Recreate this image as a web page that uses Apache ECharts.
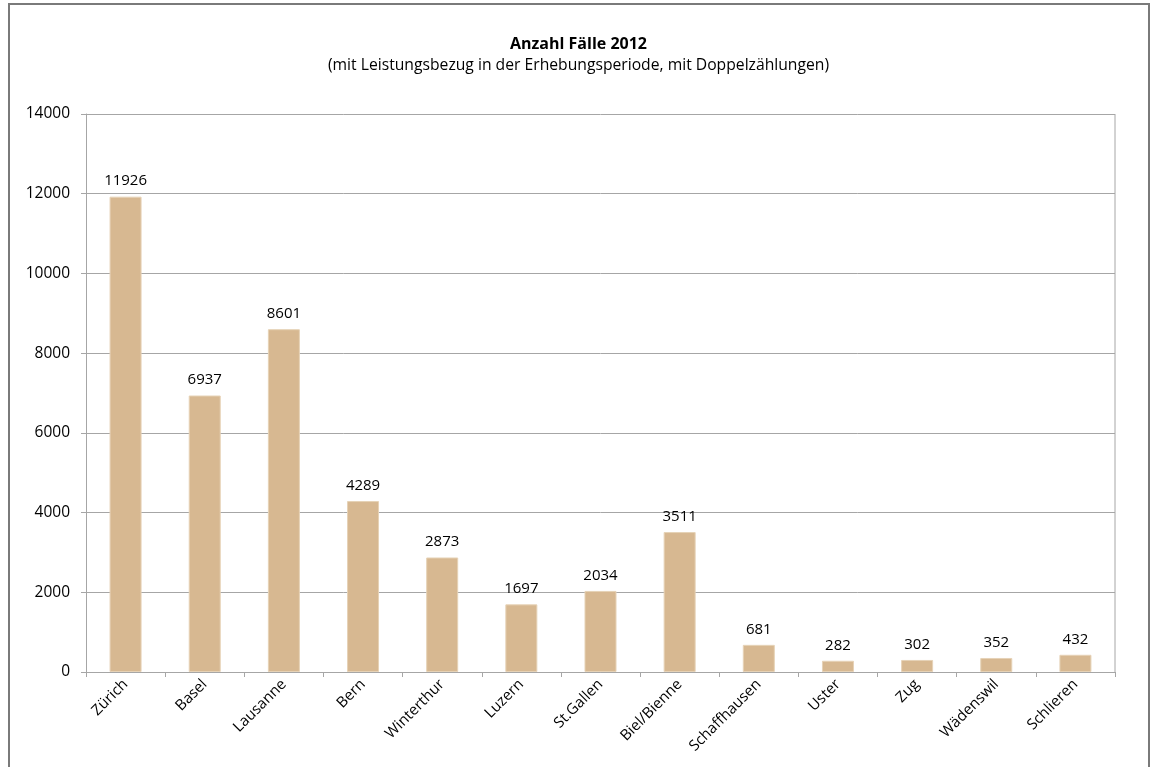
<!DOCTYPE html>
<html>
<head>
<meta charset="utf-8">
<script src="https://cdn.jsdelivr.net/npm/echarts@6/dist/echarts.min.js"></script>
<style>
html,body{margin:0;padding:0;background:#fff;}
#chart{width:1157px;height:767px;}
</style>
</head>
<body>
<div id="chart"></div>
<script>
const categories = ["Zürich","Basel","Lausanne","Bern","Winterthur","Luzern","St.Gallen","Biel/Bienne","Schaffhausen","Uster","Zug","Wädenswil","Schlieren"];
const values = [11926, 6937, 8601, 4289, 2873, 1697, 2034, 3511, 681, 282, 302, 352, 432];
const titleText = "Anzahl Fälle 2012";
const subtitleText = "(mit Leistungsbezug in der Erhebungsperiode, mit Doppelzählungen)";

const FONT = "'Open Sans', 'Liberation Sans', sans-serif";
const chart = echarts.init(document.getElementById('chart'));
chart.setOption({
  animation: false,
  backgroundColor: '#fff',
  textStyle: { fontFamily: FONT },
  title: {
    text: titleText,
    subtext: subtitleText,
    left: 'center',
    top: 31,
    itemGap: 6,
    textStyle: { fontFamily: FONT, fontSize: 16, fontWeight: 'bold', color: '#000' },
    subtextStyle: { fontFamily: FONT, fontSize: 15.7, color: '#000' }
  },
  graphic: [{
    type: 'rect',
    shape: { x: 9, y: 4, width: 1140, height: 800 },
    style: { fill: 'none', stroke: '#7a7a7a', lineWidth: 2 },
    silent: true
  }, {
    type: 'line',
    shape: { x1: 1115, y1: 114, x2: 1115, y2: 672 },
    style: { stroke: '#a6a6a6', lineWidth: 1 },
    silent: true
  }],
  grid: { left: 86, right: 42, top: 114, bottom: 95, containLabel: false },
  xAxis: {
    type: 'category',
    data: categories,
    axisLine: { show: true, lineStyle: { color: '#a6a6a6', width: 1 } },
    axisTick: { show: true, alignWithLabel: false, length: 5, lineStyle: { color: '#a6a6a6' } },
    axisLabel: { rotate: 45, interval: 0, fontSize: 15, color: '#000', margin: 10, fontFamily: FONT }
  },
  yAxis: {
    type: 'value',
    min: 0, max: 14000, interval: 2000,
    axisLine: { show: true, lineStyle: { color: '#a6a6a6', width: 1 } },
    axisTick: { show: true, inside: false, length: 5, lineStyle: { color: '#a6a6a6' } },
    axisLabel: { fontSize: 15.5, color: '#000', margin: 16, fontFamily: FONT, formatter: function (v) { return String(v); } },
    splitLine: { show: true, lineStyle: { color: '#a6a6a6', width: 1 } }
  },
  series: [{
    type: 'bar',
    data: values,
    barWidth: 32,
    itemStyle: { color: '#D7B891', borderColor: '#E6D2B6', borderWidth: 1 },
    label: { show: true, position: 'top', distance: 8, fontSize: 15, color: '#000', fontFamily: FONT }
  }]
});
</script>
</body>
</html>
